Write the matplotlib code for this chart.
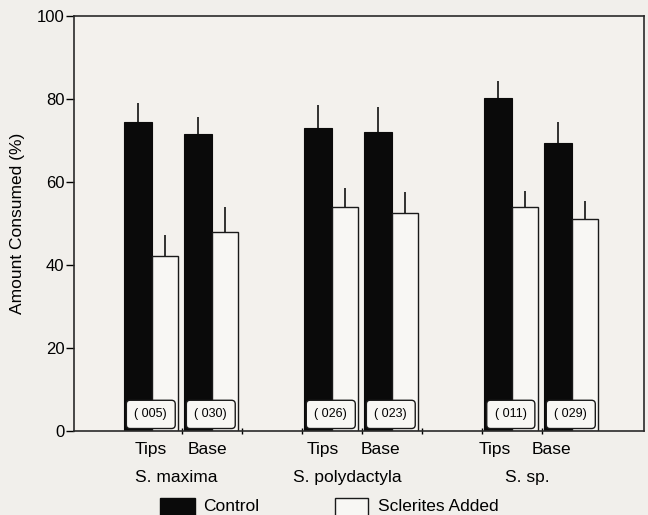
import numpy as np
import matplotlib
matplotlib.use('Agg')
import matplotlib.pyplot as plt
from matplotlib.patches import Rectangle

# ---- data ----
species = ['S. maxima', 'S. polydactyla', 'S. sp.']
parts = ['Tips', 'Base']
control = [74.5, 71.6, 73.0, 72.0, 80.2, 69.4]
control_err = [4.5, 4.1, 5.6, 6.0, 4.1, 5.1]
sclerites = [42.2, 48.0, 54.0, 52.5, 54.0, 51.1]
sclerites_err = [5.0, 6.0, 4.6, 5.1, 3.8, 4.3]
counts = ['( 005)', '( 030)', '( 026)', '( 023)', '( 011)', '( 029)']

# cell positions (tips / base of each species, with a gap between species)
cells = np.array([0, 1, 3, 4, 6, 7])
part_label_x = [0.48, 1.42, 3.35, 4.30, 6.22, 7.15]
species_label_x = [0.90, 3.75, 6.75]

plt.rcParams['font.family'] = ['Liberation Sans', 'DejaVu Sans']
bg = '#f1efeb'

fig = plt.figure(figsize=(6.48, 5.15), dpi=100, facecolor=bg)
ax = fig.add_axes([74/648, 1 - 431/515, (644 - 74)/648, (431 - 16)/515])
ax.set_facecolor('#f3f1ed')

bw = 0.46
ax.bar(cells + 0.04, control, width=bw, align='edge', color='#0a0a0a',
       edgecolor='#0a0a0a', linewidth=0.8, zorder=2)
ax.bar(cells + 0.50, sclerites, width=0.43, align='edge', color='#f8f7f4',
       edgecolor='#1a1a1a', linewidth=1.0, zorder=2)

# one-sided error bars
ax.errorbar(cells + 0.04 + bw/2, control, yerr=[np.zeros(6), control_err],
            fmt='none', ecolor='#222222', elinewidth=1.3, capsize=0, zorder=1)
ax.errorbar(cells + 0.50 + 0.215, sclerites, yerr=[np.zeros(6), sclerites_err],
            fmt='none', ecolor='#222222', elinewidth=1.3, capsize=0, zorder=1)

# sample sizes in little boxes
for c, lab in zip(cells, counts):
    ax.text(c + 0.48, 4.0, lab, ha='center', va='center', fontsize=9, zorder=4,
            bbox=dict(boxstyle='round,pad=0.65,rounding_size=0.3', fc='#f8f7f4',
                      ec='#1a1a1a', lw=1.0))

ax.set_xlim(-0.8, 8.7)
ax.set_ylim(0, 100)
ax.set_yticks([0, 20, 40, 60, 80, 100])
ax.set_xticks([1, 2, 3, 4, 5, 6, 7])
ax.set_xticklabels([])
ax.tick_params(axis='y', direction='out', length=6, width=1, labelsize=12, pad=1)
ax.tick_params(axis='x', direction='inout', length=5, width=1)
for s in ax.spines.values():
    s.set_color('#2a2a2a')
    s.set_linewidth(1.2)

ax.set_ylabel('Amount Consumed (%)', fontsize=12.5, labelpad=8)

for i, x in enumerate(part_label_x):
    ax.text(x, -5.6, parts[i % 2], ha='center', va='baseline', fontsize=12.5,
            clip_on=False)
for x, s in zip(species_label_x, species):
    ax.text(x, -12.3, s, ha='center', va='baseline', fontsize=12.5, clip_on=False)

# legend swatches along the bottom edge
fig.add_artist(Rectangle((160/648, 0), 35/648, 17/515, transform=fig.transFigure,
                         fc='#0a0a0a', ec='#0a0a0a'))
fig.add_artist(Rectangle((335/648, -0.01), 33/648, 17/515 + 0.01,
                         transform=fig.transFigure, fc='#f8f7f4', ec='#1a1a1a', lw=1.0))
fig.text(203/648, 4/515, 'Control', fontsize=12.5, va='baseline')
fig.text(378/648, 4/515, 'Sclerites Added', fontsize=12.5, va='baseline')

fig.savefig('out.png', dpi=100, facecolor=bg)
